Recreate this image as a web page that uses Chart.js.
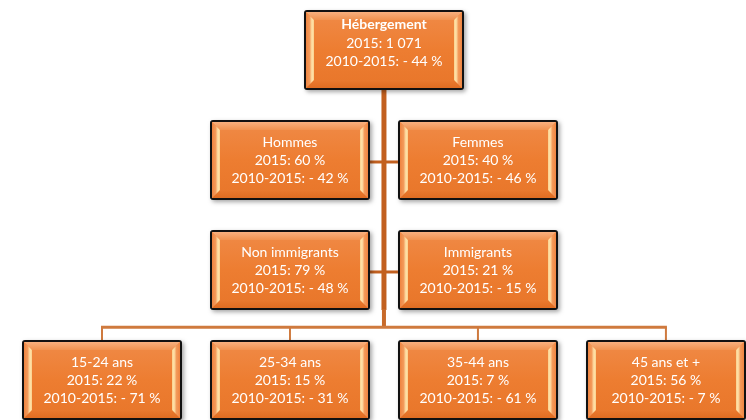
<!DOCTYPE html>
<html>
<head>
<meta charset="utf-8">
<script src="https://cdn.jsdelivr.net/npm/chart.js@4.4.0/dist/chart.umd.min.js"></script>
<style>
html,body{margin:0;padding:0;background:#ffffff;}
#wrap{width:746px;height:420px;}
</style>
</head>
<body>
<div id="wrap"><canvas id="c" width="746" height="420"></canvas></div>
<script>
// ---- Data ----
const nodeTitles = ["Hébergement", "Hommes", "Femmes", "Non immigrants", "Immigrants", "15-24 ans", "25-34 ans", "35-44 ans", "45 ans et +"];
const value2015 = ["1 071", "60 %", "40 %", "79 %", "21 %", "22 %", "15 %", "7 %", "56 %"];
const change20102015 = ["- 44 %", "- 42 %", "- 46 %", "- 48 %", "- 15 %", "- 71 %", "- 31 %", "- 61 %", "- 7 %"];
// layout grid position (column, level) of each node
const nodeCol = [2, 1.5, 2.5, 1.5, 2.5, 0.5, 1.5, 2.5, 3.5];
const nodeLevel = [0, 1, 1, 2, 2, 3, 3, 3, 3];
// node 0 is the root; side nodes attach to trunk; age nodes hang from the bus
const sideNodes = [1, 2, 3, 4];
const busNodes = [5, 6, 7, 8];

const BOX_W = 0.851, BOX_H = 0.727; // in scale units
const BUS_LEVEL = 2.52;

function roundRect(ctx, x, y, w, h, r) {
  ctx.beginPath();
  ctx.moveTo(x + r, y);
  ctx.lineTo(x + w - r, y);
  ctx.quadraticCurveTo(x + w, y, x + w, y + r);
  ctx.lineTo(x + w, y + h - r);
  ctx.quadraticCurveTo(x + w, y + h, x + w - r, y + h);
  ctx.lineTo(x + r, y + h);
  ctx.quadraticCurveTo(x, y + h, x, y + h - r);
  ctx.lineTo(x, y + r);
  ctx.quadraticCurveTo(x, y, x + r, y);
  ctx.closePath();
}

function drawBox(ctx, x0, y0, w, h) {
  ctx.save();
  ctx.shadowColor = "rgba(0,0,0,0.35)";
  ctx.shadowBlur = 4;
  ctx.shadowOffsetX = 2;
  ctx.shadowOffsetY = 2;
  ctx.fillStyle = "#111111";
  roundRect(ctx, x0, y0, w, h, 3);
  ctx.fill();
  ctx.restore();
  const ix = x0 + 2, iy = y0 + 2, iw = w - 4, ih = h - 4;
  let g = ctx.createLinearGradient(0, iy, 0, iy + ih);
  g.addColorStop(0, "#f08a47");
  g.addColorStop(0.5, "#ed7d31");
  g.addColorStop(1, "#e8762a");
  ctx.fillStyle = g;
  ctx.fillRect(ix, iy, iw, ih);
  const b = 8;
  ctx.beginPath();
  ctx.moveTo(ix, iy); ctx.lineTo(ix + iw, iy); ctx.lineTo(ix + iw - b, iy + b); ctx.lineTo(ix + b, iy + b); ctx.closePath();
  g = ctx.createLinearGradient(0, iy, 0, iy + b);
  g.addColorStop(0, "#f8b07e"); g.addColorStop(1, "#f0924f");
  ctx.fillStyle = g; ctx.fill();
  ctx.beginPath();
  ctx.moveTo(ix, iy + ih); ctx.lineTo(ix + iw, iy + ih); ctx.lineTo(ix + iw - b, iy + ih - b); ctx.lineTo(ix + b, iy + ih - b); ctx.closePath();
  g = ctx.createLinearGradient(0, iy + ih, 0, iy + ih - b);
  g.addColorStop(0, "#e06d22"); g.addColorStop(1, "#ea7a2f");
  ctx.fillStyle = g; ctx.fill();
  const sides = [[ix, 1], [ix + iw, -1]];
  sides.forEach(([ex, d]) => {
    ctx.beginPath();
    ctx.moveTo(ex, iy); ctx.lineTo(ex + d * b, iy + b); ctx.lineTo(ex + d * b, iy + ih - b); ctx.lineTo(ex, iy + ih); ctx.closePath();
    g = ctx.createLinearGradient(ex, 0, ex + d * b, 0);
    g.addColorStop(0, "#ef8440"); g.addColorStop(0.45, "#f39a5a"); g.addColorStop(0.75, "#ffe4ab"); g.addColorStop(1, "#fbd08e");
    ctx.fillStyle = g; ctx.fill();
  });
}

const orgPlugin = {
  id: "orgPlugin",
  afterDatasetsDraw(chart) {
    const ctx = chart.ctx;
    const xs = chart.scales.x, ys = chart.scales.y;
    const px = v => xs.getPixelForValue(v);
    const py = v => ys.getPixelForValue(v);
    const bw = px(BOX_W) - px(0);
    const bh = py(BOX_H) - py(0);
    ctx.save();
    const tx = px(nodeCol[0]);
    ctx.strokeStyle = "#c2601f";
    ctx.lineWidth = 5;
    ctx.beginPath();
    ctx.moveTo(tx, py(nodeLevel[0]) + bh / 2);
    ctx.lineTo(tx, py(nodeLevel[3]) + bh / 2);
    ctx.stroke();
    ctx.strokeStyle = "#c86a2a";
    ctx.lineWidth = 4;
    ctx.beginPath();
    ctx.moveTo(tx, py(nodeLevel[3]) + bh / 2 - 1);
    ctx.lineTo(tx, py(BUS_LEVEL));
    ctx.stroke();
    ctx.strokeStyle = "#c2601f";
    ctx.lineWidth = 3;
    sideNodes.forEach(i => {
      const cx = px(nodeCol[i]);
      const cy = py(nodeLevel[i]) + 2;
      const edge = cx < tx ? cx + bw / 2 : cx - bw / 2;
      ctx.beginPath(); ctx.moveTo(edge, cy); ctx.lineTo(tx, cy); ctx.stroke();
    });
    ctx.strokeStyle = "#cf7a3e";
    ctx.lineWidth = 3;
    const byPx = py(BUS_LEVEL);
    ctx.beginPath();
    ctx.moveTo(px(nodeCol[busNodes[0]]) - 1, byPx);
    ctx.lineTo(px(nodeCol[busNodes[busNodes.length - 1]]) + 1, byPx);
    ctx.stroke();
    ctx.lineWidth = 2;
    busNodes.forEach(i => {
      const cx = px(nodeCol[i]);
      ctx.beginPath(); ctx.moveTo(cx, byPx); ctx.lineTo(cx, py(nodeLevel[i]) - bh / 2 + 1); ctx.stroke();
    });
    nodeTitles.forEach((t, i) => {
      const cx = px(nodeCol[i]), cy = py(nodeLevel[i]);
      drawBox(ctx, Math.round(cx - bw / 2), Math.round(cy - bh / 2), Math.round(bw), Math.round(bh));
      ctx.fillStyle = "#ffffff";
      ctx.textAlign = "center";
      ctx.textBaseline = "middle";
      const f = "14px Lato, 'Open Sans', sans-serif";
      const off = i === 0 ? -8 : 0;
      ctx.font = (i === 0 ? "bold " : "") + f;
      ctx.fillText(t, cx, cy - 17.5 + off);
      ctx.font = f;
      ctx.fillText("2015: " + value2015[i], cx, cy + 1 + off);
      ctx.fillText("2010-2015: " + change20102015[i], cx, cy + 19 + off);
    });
    ctx.restore();
  }
};

new Chart(document.getElementById("c"), {
  type: "scatter",
  data: {
    datasets: [{
      data: nodeCol.map((c, i) => ({ x: c, y: nodeLevel[i] })),
      pointRadius: 0,
      pointHoverRadius: 0
    }]
  },
  options: {
    responsive: false,
    animation: false,
    events: [],
    layout: { padding: 0 },
    plugins: { legend: { display: false }, tooltip: { enabled: false } },
    scales: {
      x: { type: "linear", min: -0.0426, max: 3.926, display: false },
      y: { type: "linear", reverse: true, min: -0.4545, max: 3.364, display: false }
    }
  },
  plugins: [orgPlugin]
});
</script>
</body>
</html>
